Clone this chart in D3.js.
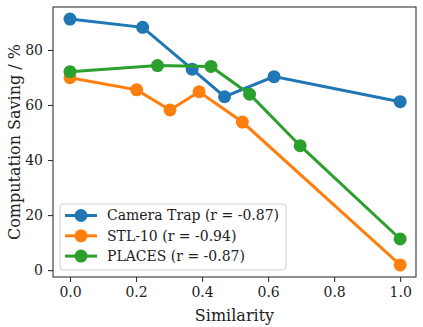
<!DOCTYPE html>
<html>
<head>
<meta charset="utf-8">
<script src="https://cdn.jsdelivr.net/npm/d3@7/dist/d3.min.js"></script>
<style>
  body { margin: 0; background: #fff; }
  svg text { font-family: "DejaVu Serif", "Liberation Serif", "Times New Roman", serif; fill: #222; }
</style>
</head>
<body>
<div id="chart"></div>
<script>
var width = 423;
var height = 327;
var margin = {top: 7, right: 7, bottom: 50, left: 53};

// data
var cameraX = [0.0, 0.22, 0.37, 0.468, 0.618, 1.0];
var cameraY = [91.2, 88.2, 73.0, 63.0, 70.3, 61.2];
var stlX = [0.0, 0.202, 0.303, 0.391, 0.522, 1.0];
var stlY = [69.9, 65.5, 58.2, 64.8, 53.8, 1.9];
var placesX = [0.0, 0.265, 0.427, 0.544, 0.697, 1.0];
var placesY = [72.1, 74.3, 74.0, 63.9, 45.2, 11.3];
var xTicks = [0.0, 0.2, 0.4, 0.6, 0.8, 1.0];
var yTicks = [0, 20, 40, 60, 80];

var series = [
    {name: "Camera Trap (r = -0.87)", xs: cameraX, ys: cameraY, color: "#1f77b4"},
    {name: "STL-10 (r = -0.94)", xs: stlX, ys: stlY, color: "#ff7f0e"},
    {name: "PLACES (r = -0.87)", xs: placesX, ys: placesY, color: "#2ca02c"}
];

var svg = d3.select("#chart").append("svg")
    .attr("width", width)
    .attr("height", height);

var x = d3.scaleLinear().domain([-0.0515, 1.048])
    .range([margin.left, width - margin.right]);
var y = d3.scaleLinear().domain([-2.5, 95.6])
    .range([height - margin.bottom, margin.top]);

// axes
var xAxis = svg.append("g")
    .attr("transform", "translate(0," + (height - margin.bottom) + ")")
    .call(d3.axisBottom(x).tickValues(xTicks).tickFormat(d3.format(".1f")).tickSize(5).tickPadding(5));
var yAxis = svg.append("g")
    .attr("transform", "translate(" + margin.left + ",0)")
    .call(d3.axisLeft(y).tickValues(yTicks).tickSize(5).tickPadding(5));
[xAxis, yAxis].forEach(function (g) {
    g.attr("font-family", null);
    g.select(".domain").remove();
    g.selectAll("line").attr("stroke", "#333").attr("stroke-width", 1.1);
    g.selectAll("text").attr("font-size", "14px").attr("fill", "#222");
});

// frame
svg.append("rect")
    .attr("x", margin.left).attr("y", margin.top)
    .attr("width", width - margin.left - margin.right)
    .attr("height", height - margin.top - margin.bottom)
    .attr("fill", "none").attr("stroke", "#333").attr("stroke-width", 1.1);

// axis labels
svg.append("text")
    .attr("x", (margin.left + width - margin.right) / 2)
    .attr("y", height - 6)
    .attr("text-anchor", "middle")
    .attr("font-size", "16px")
    .text("Similarity");
svg.append("text")
    .attr("transform", "translate(20," + ((margin.top + height - margin.bottom) / 2) + ") rotate(-90)")
    .attr("text-anchor", "middle")
    .attr("font-size", "16px")
    .text("Computation Saving / %");

// lines and markers
var line = d3.line().x(d => x(d[0])).y(d => y(d[1]));
series.forEach(function (s) {
    var pts = s.xs.map((v, i) => [v, s.ys[i]]);
    var g = svg.append("g");
    g.append("path").datum(pts)
        .attr("d", line)
        .attr("fill", "none").attr("stroke", s.color).attr("stroke-width", 3);
    g.selectAll("circle").data(pts).enter().append("circle")
        .attr("cx", d => x(d[0])).attr("cy", d => y(d[1]))
        .attr("r", 6.5).attr("fill", s.color);
});

// legend
var legend = svg.append("g").attr("transform", "translate(60,204)");
legend.append("rect")
    .attr("width", 226).attr("height", 66).attr("rx", 3)
    .attr("fill", "#fff").attr("fill-opacity", 0.85)
    .attr("stroke", "#d0d0d0");
series.forEach(function (s, i) {
    var row = legend.append("g").attr("transform", "translate(0," + (11.5 + i * 20.3) + ")");
    row.append("line").attr("x1", 5).attr("x2", 37)
        .attr("stroke", s.color).attr("stroke-width", 3);
    row.append("circle").attr("cx", 21).attr("r", 6.5).attr("fill", s.color);
    row.append("text").attr("x", 47).attr("dy", "0.35em")
        .attr("font-size", "14px").text(s.name);
});
</script>
</body>
</html>
